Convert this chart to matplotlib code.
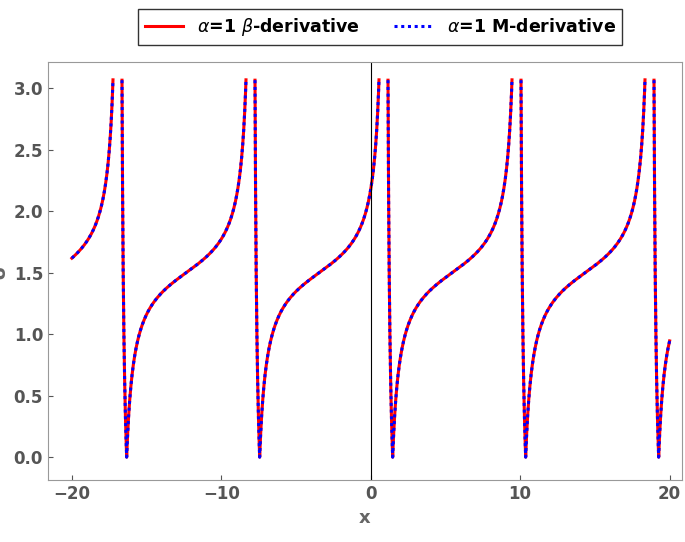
import numpy as np
import matplotlib
matplotlib.use("Agg")
import matplotlib.pyplot as plt

# curve parameters: U = |base + amp*tan(pi*(x-x_infl)/period)|
x_range = [-20, 20]
period = [8.9]
x_infl = [-12.35]
base = [1.5]
amp = [0.25]
yticks = [0.0, 0.5, 1.0, 1.5, 2.0, 2.5, 3.0]
xticks = [-20, -10, 0, 10, 20]
labels = [r"$\alpha$=1 $\beta$-derivative", r"$\alpha$=1 M-derivative"]

x = np.linspace(x_range[0], x_range[1], 40001)
u = np.abs(base[0] + amp[0]*np.tan(np.pi*(x - x_infl[0])/period[0]))
u = np.where(u > 3.07, np.nan, u)

fig = plt.figure(figsize=(6.85, 5.42), dpi=100)
ax = fig.add_axes([0.07, 0.114, 0.925, 0.771])
ax.plot(x, u, color="red", lw=2.2, label=labels[0])
ax.plot(x, u, color="blue", lw=2.2, ls=(0, (1, 1.2)), label=labels[1])
ax.axvline(0, color="black", lw=0.8)
ax.set_xlim(-21.6, 20.8)
ax.set_ylim(-0.187, 3.21)
ax.set_xticks(xticks)
ax.set_yticks(yticks)
ax.set_yticklabels([f"{v:.1f}" for v in yticks])
for s in ax.spines.values():
    s.set_color("#999999")
ax.tick_params(colors="#555555", labelsize=12, direction="in")
for t in ax.get_xticklabels() + ax.get_yticklabels():
    t.set_fontweight("bold")
ax.set_xlabel("x", fontsize=13, color="#666666", fontweight="bold")
ax.set_ylabel("U", fontsize=13, color="#666666", fontweight="bold")
leg = fig.legend(loc="upper center", bbox_to_anchor=(0.555, 1.0), ncol=2,
                 fancybox=False, edgecolor="black",
                 prop={"weight": "bold", "size": 12.5}, handlelength=2.2)
plt.savefig("out.png", dpi=100)
